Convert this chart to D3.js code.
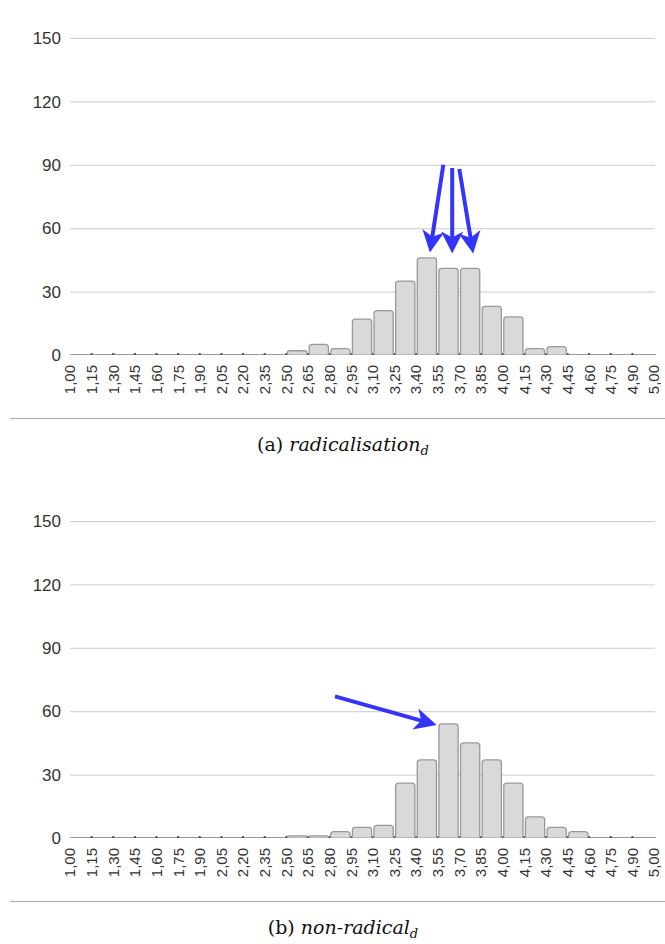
<!DOCTYPE html>
<html>
<head>
<meta charset="utf-8">
<script src="https://cdn.jsdelivr.net/npm/d3@7"></script>
<style>
  html, body { margin: 0; padding: 0; background: #fff; }
  svg { display: block; }
</style>
</head>
<body>
<svg id="fig" width="665" height="944"></svg>
<script>
// Bin edges of the score histogram (labels sit on the bin boundaries)
const edgeLabels = ["1,00","1,15","1,30","1,45","1,60","1,75","1,90","2,05","2,20","2,35",
  "2,50","2,65","2,80","2,95","3,10","3,25","3,40","3,55","3,70","3,85",
  "4,00","4,15","4,30","4,45","4,60","4,75","4,90","5,00"];

// Counts per bin (27 bins)
const radicalisation = [0,0,0,0,0,0,0,0,0,0, 2,5,3,17,21,35,46,41,41,23,18,3,4, 0,0,0,0];
const nonRadical     = [0,0,0,0,0,0,0,0,0,0, 1,1,3,5,6,26,37,54,45,37,26,10,5,3, 0,0,0];

const yTicks = [0, 30, 60, 90, 120, 150];

// Annotation arrows in data units: [bin-edge index, count]
const arrowsA = [
  { from: [17.26, 90],   to: [16.64, 48.5] },
  { from: [17.67, 88.5], to: [17.67, 48] },
  { from: [18.00, 88],   to: [18.64, 48] }
];
const arrowsB = [
  { from: [12.25, 67],   to: [16.95, 53.5] }
];

const svg = d3.select("#fig");

const x = d3.scaleLinear().domain([0, edgeLabels.length - 1]).range([70, 654]);

function panel(values, arrows, yBase, yTop, caption, sepY, capY) {
  const y = d3.scaleLinear().domain([0, 150]).range([yBase, yTop]);
  const g = svg.append("g");

  // gridlines
  g.selectAll("line.grid").data(yTicks.filter(t => t > 0)).join("line")
    .attr("x1", 70).attr("x2", 655)
    .attr("y1", d => y(d) + 0.5).attr("y2", d => y(d) + 0.5)
    .attr("stroke", "#cccccc").attr("stroke-width", 1);

  // y labels
  g.selectAll("text.ylab").data(yTicks).join("text")
    .attr("x", 61).attr("y", d => y(d))
    .attr("dy", "0.36em")
    .attr("text-anchor", "end")
    .attr("font-family", "Liberation Sans, Arial, sans-serif")
    .attr("font-size", 17)
    .attr("fill", "#333")
    .text(d => d);

  // baseline
  g.append("line")
    .attr("x1", 70).attr("x2", 656)
    .attr("y1", y(0) - 0.5).attr("y2", y(0) - 0.5)
    .attr("stroke", "#999").attr("stroke-width", 1);

  // small marks on the bin boundaries
  g.selectAll("rect.tk").data(d3.range(1, edgeLabels.length - 1)).join("rect")
    .attr("x", d => x(d) - 1).attr("width", 2)
    .attr("y", y(0) - 2).attr("height", 2)
    .attr("fill", "#555");

  // bars with rounded top corners
  const r = 3;
  g.selectAll("path.bar").data(values.map((v, i) => ({ v, i })).filter(d => d.v > 0)).join("path")
    .attr("d", d => {
      const x0 = x(d.i) + 1.2, x1 = x(d.i + 1) - 1.2;
      const yb = y(0) - 0.5, yt = y(d.v);
      const rr = Math.min(r, (yb - yt) / 2);
      return `M${x0},${yb}V${yt + rr}Q${x0},${yt} ${x0 + rr},${yt}H${x1 - rr}Q${x1},${yt} ${x1},${yt + rr}V${yb}`;
    })
    .attr("fill", "#d9d9d9")
    .attr("stroke", "#999")
    .attr("stroke-width", 1.3);

  // x labels (rotated)
  g.selectAll("text.xlab").data(edgeLabels).join("text")
    .attr("transform", (d, i) => `translate(${x(i)},${y(0) + 10}) rotate(-90)`)
    .attr("dy", "0.36em")
    .attr("text-anchor", "end")
    .attr("font-family", "Liberation Sans, Arial, sans-serif")
    .attr("font-size", 15)
    .attr("fill", "#333")
    .text(d => d);

  // arrows
  const L = 22, W = 11, N = 6;
  arrows.forEach(a => {
    const x1 = x(a.from[0]), y1 = y(a.from[1]);
    const x2 = x(a.to[0]), y2 = y(a.to[1]);
    const ang = Math.atan2(y2 - y1, x2 - x1);
    const len = Math.hypot(x2 - x1, y2 - y1);
    const ag = g.append("g")
      .attr("transform", `translate(${x2},${y2}) rotate(${ang * 180 / Math.PI})`);
    ag.append("line")
      .attr("x1", -len).attr("y1", 0).attr("x2", -L + N + 1).attr("y2", 0)
      .attr("stroke", "#3434ff").attr("stroke-width", 4);
    ag.append("path")
      .attr("d", `M0,0L${-L},${-W}L${-L + N},0L${-L},${W}Z`)
      .attr("fill", "#3434ff");
  });

  // separator
  svg.append("line")
    .attr("x1", 10).attr("x2", 665)
    .attr("y1", sepY + 0.5).attr("y2", sepY + 0.5)
    .attr("stroke", "#aaa").attr("stroke-width", 1);

  // caption
  const t = svg.append("text")
    .attr("x", 343).attr("y", capY)
    .attr("text-anchor", "middle")
    .attr("font-family", "DejaVu Serif, serif")
    .attr("font-size", 19)
    .attr("fill", "#111");
  t.append("tspan").text(caption[0] + " ");
  t.append("tspan").attr("font-style", "italic").text(caption[1]);
  t.append("tspan").attr("font-style", "italic").attr("font-size", 13).attr("dy", 4).text("d");
}

panel(radicalisation, arrowsA, 355, 38, ["(a)", "radicalisation"], 418, 451);
panel(nonRadical, arrowsB, 838, 521, ["(b)", "non-radical"], 901, 934);
</script>
</body>
</html>
